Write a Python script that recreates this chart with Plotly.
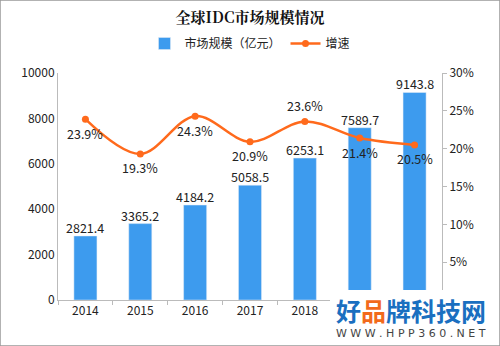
import plotly.graph_objects as go

years = ["2014", "2015", "2016", "2017", "2018", "2019", "2020"]
market = [2821.4, 3365.2, 4184.2, 5058.5, 6253.1, 7589.7, 9143.8]
growth = [23.9, 19.3, 24.3, 20.9, 23.6, 21.4, 20.5]
growth_above = [False, False, False, False, True, False, False]
left_ticks = [0, 2000, 4000, 6000, 8000, 10000]
right_ticks = [5, 10, 15, 20, 25, 30]
# 2019 and 2020 axis labels are hidden behind the site logo in the reference
x_ticktext = ["2014", "2015", "2016", "2017", "2018", "", ""]

BLUE = "#3D9BEE"
ORANGE = "#FF6A1C"
FONT = "Noto Sans CJK SC"

fig = go.Figure()
fig.add_trace(go.Bar(
    x=years, y=market, name="市场规模（亿元）", marker_color=BLUE, width=0.42,
))
fig.add_trace(go.Scatter(
    x=years, y=growth, name="增速", yaxis="y2", mode="lines+markers",
    line=dict(color=ORANGE, width=2.5, shape="spline", smoothing=1.0),
    marker=dict(color=ORANGE, size=7), cliponaxis=False,
))
for i, v in enumerate(market):
    fig.add_annotation(x=i, y=v, xref="x", yref="y", text=f"{v:.1f}",
                       showarrow=False, yanchor="bottom", yshift=-3,
                       font=dict(size=12.5, color="#222"))
for i, (g, up) in enumerate(zip(growth, growth_above)):
    fig.add_annotation(x=i, y=g, xref="x", yref="y2", text=f"{g:.1f}%",
                       showarrow=False, yshift=16 if up else -14,
                       font=dict(size=12.5, color="#222"))

fig.update_layout(
    width=500, height=346,
    margin=dict(l=58, r=58, t=73, b=46),
    paper_bgcolor="white", plot_bgcolor="white",
    font=dict(family=FONT, size=12, color="#222"),
    title=dict(text="<b>全球IDC市场规模情况</b>", x=0.5, xanchor="center",
               y=0.948, yanchor="middle", font=dict(size=15, color="#111", family="Noto Serif CJK SC, " + FONT)),
    showlegend=True,
    legend=dict(orientation="h", x=0.5, xanchor="center", y=1.13, yanchor="middle",
                font=dict(size=12), itemwidth=30, bgcolor="rgba(0,0,0,0)"),
    bargap=0.58,
    xaxis=dict(type="category", showline=True, linecolor="#bbb", linewidth=1, ticks="outside",
               tickson="boundaries", ticklen=4, tickcolor="#bbb",
               tickvals=years, ticktext=x_ticktext,
               tickfont=dict(size=12), showgrid=False),
    yaxis=dict(range=[0, 10000], tickvals=left_ticks, ticktext=[str(v) for v in left_ticks],
               showgrid=False, showline=True, linecolor="#bbb", linewidth=1, ticks="",
               tickfont=dict(size=12), zeroline=False),
    yaxis2=dict(range=[0, 30], overlaying="y", side="right", tickvals=right_ticks,
                ticktext=[f"{v}%" for v in right_ticks], showgrid=False,
                showline=True, linecolor="#bbb", linewidth=1, ticks="outside",
                ticklen=4, tickcolor="#bbb", tickfont=dict(size=12), zeroline=False),
)

# border of image
fig.add_shape(type="rect", xref="paper", yref="paper", x0=-58/384, x1=1+58/384,
              y0=-46/227, y1=1+73/227, line=dict(color="#999", width=1.5))

# logo block bottom-right
fig.add_shape(type="rect", xref="paper", yref="paper",
              x0=(330-58)/384, x1=(498-58)/384, y0=-44/227, y1=(300-290)/227,
              fillcolor="white", line=dict(width=0), layer="above")
fig.add_annotation(xref="paper", yref="paper", x=(411-58)/384, y=(300-310)/227,
                   xanchor="center", yanchor="middle",
                   text="<b><span style='color:#1A6FC0'>好</span><span style='color:#F26A1B'>品</span><span style='color:#1A6FC0'>牌科技网</span></b>",
                   showarrow=False, font=dict(size=25, family=FONT))
fig.add_annotation(xref="paper", yref="paper", x=(411-58)/384, y=(300-333)/227,
                   xanchor="center", yanchor="middle",
                   text="W W W . H P P 3 6 0 . N E T", showarrow=False,
                   font=dict(size=11, color="#444", family="DejaVu Sans"))

fig.write_html("out.html")
